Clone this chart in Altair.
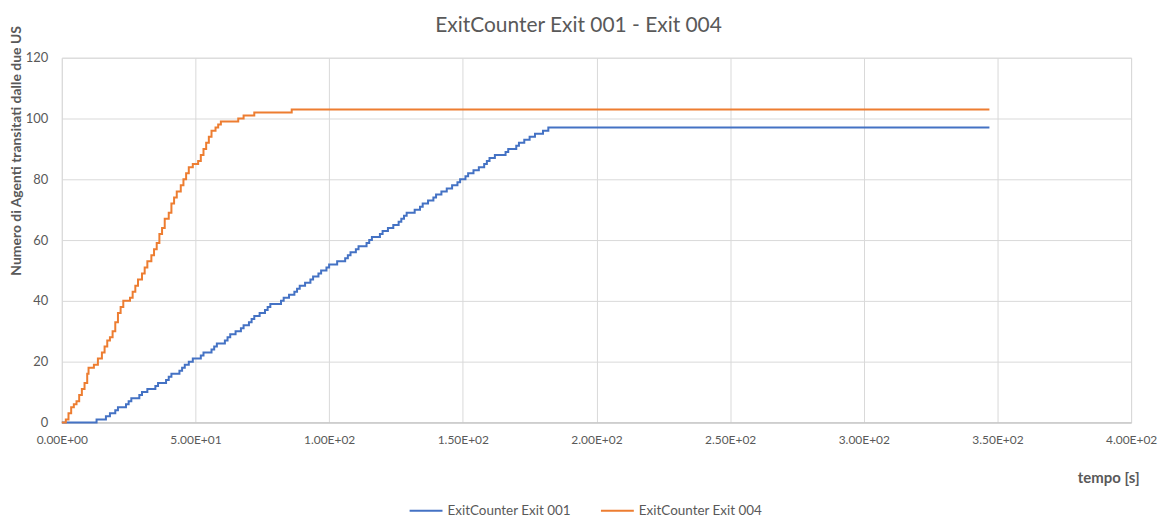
import altair as alt
import pandas as pd

FONT = "Lato"
GREY = "#595959"

series_names = ["ExitCounter Exit 001", "ExitCounter Exit 004"]
series_colors = ["#4472C4", "#ED7D31"]

# ExitCounter Exit 001 (step points: time [s], count)
t_001 = [0, 13, 16.5, 18, 20, 21, 24, 25, 26, 29, 30, 32, 35, 36, 39, 40, 41, 44, 45, 46,
         47.5, 49, 52, 53, 56, 57, 58, 61, 62, 63, 65, 67, 68, 70, 71, 72, 74, 76, 77, 78,
         82, 83, 85, 87, 88, 89, 91, 93, 94, 96, 97, 99, 100, 103, 106, 107, 108, 110, 111,
         114, 115, 116, 119, 120, 122, 124, 126, 127, 128, 129, 132, 134, 135, 137, 139, 140,
         142, 144, 146, 148, 149, 151, 152, 154, 156, 158, 159, 160, 162, 166, 167, 170, 171,
         173, 175, 177, 180, 182, 347]
y_001 = [0, 1, 2, 3, 4, 5, 6, 7, 8, 9, 10, 11, 12, 13, 14, 15, 16, 17, 18, 19,
         20, 21, 22, 23, 24, 25, 26, 27, 28, 29, 30, 31, 32, 33, 34, 35, 36, 37, 38, 39,
         40, 41, 42, 43, 44, 45, 46, 47, 48, 49, 50, 51, 52, 53, 54, 55, 56, 57, 58,
         59, 60, 61, 62, 63, 64, 65, 66, 67, 68, 69, 70, 71, 72, 73, 74, 75,
         76, 77, 78, 79, 80, 81, 82, 83, 84, 85, 86, 87, 88, 89, 90, 91, 92,
         93, 94, 95, 96, 97, 97]

# ExitCounter Exit 004
t_004 = [0, 1.5, 2.5, 3.5, 4.5, 5.5, 6.5, 7.5, 8.5, 9.5, 10, 12, 13.5, 15, 16, 17, 18, 19,
         20, 21, 22, 23, 25.5, 26.5, 27.5, 28.5, 30, 31, 32, 33.5, 34.5, 35.5, 36.5, 37.5,
         38.5, 40, 41, 42, 43, 44.5, 45.5, 46.5, 47.5, 49, 51, 52, 53, 54, 55, 56, 57.5,
         58.5, 59.5, 66, 68, 72, 86, 347]
y_004 = [0, 1, 3, 5, 6, 7, 9, 11, 13, 16, 18, 19, 21, 23, 25, 27, 28, 30,
         33, 36, 38, 40, 41, 43, 45, 47, 49, 51, 53, 55, 57, 59, 62, 64,
         67, 69, 72, 74, 76, 78, 80, 82, 84, 85, 86, 88, 90, 92, 94, 96, 97,
         98, 99, 100, 101, 102, 103, 103]

x_ticks = [0, 50, 100, 150, 200, 250, 300, 350, 400]
y_ticks = [0, 20, 40, 60, 80, 100, 120]

df = pd.concat([
    pd.DataFrame({"serie": series_names[0], "t": t_001, "n": y_001}),
    pd.DataFrame({"serie": series_names[1], "t": t_004, "n": y_004}),
])

label_expr = ("datum.value == 0 ? '0.00E+00' : (datum.value < 100 ? "
              "format(datum.value / 10, '.2f') + 'E+01' : "
              "format(datum.value / 100, '.2f') + 'E+02')")

chart = alt.Chart(df).mark_line(interpolate="step-after", strokeWidth=2).encode(
    x=alt.X("t:Q",
            scale=alt.Scale(domain=[0, 400], nice=False),
            axis=alt.Axis(values=x_ticks, labelExpr=label_expr, title="tempo [s]",
                          grid=True, gridColor="#d9d9d9", domainColor="#bfbfbf",
                          ticks=False, labelPadding=12, labelFontSize=12,
                          labelFlush=False, labelOverlap=False,
                          labelColor=GREY, labelFont=FONT,
                          titleFont=FONT, titleFontSize=15, titleFontWeight="bold",
                          titleColor=GREY, titleAnchor="end", titleAlign="right",
                          titleX=1081, titleY=55, titleBaseline="middle")),
    y=alt.Y("n:Q",
            scale=alt.Scale(domain=[0, 120], nice=False),
            axis=alt.Axis(values=y_ticks, title="Numero di Agenti transitati dalle due US",
                          grid=True, gridColor="#d9d9d9", domain=False, ticks=False,
                          labelPadding=14, labelFontSize=13, labelColor=GREY,
                          labelFont=FONT, titleFont=FONT, titleFontSize=14,
                          titleFontWeight="bold", titleColor=GREY,
                          titleX=-45, titleY=93, titleAlign="center",
                          titleBaseline="middle")),
    color=alt.Color("serie:N",
                    scale=alt.Scale(domain=series_names, range=series_colors),
                    legend=alt.Legend(title=None, orient="none", direction="horizontal",
                                      legendX=348, legendY=437, padding=0,
                                      symbolType="stroke", symbolSize=1089,
                                      symbolStrokeWidth=2, labelFont=FONT,
                                      labelFontSize=13.5, labelColor=GREY,
                                      labelOffset=4, columnPadding=26)),
).properties(
    width=1073,
    height=366,
    title=alt.TitleParams("ExitCounter Exit 001 - Exit 004", font=FONT, fontSize=21,
                          fontWeight="normal", color=GREY, anchor="middle",
                          offset=0, dx=-18, dy=11),
    autosize=alt.AutoSizeParams(type="none"),
    padding={"left": 54, "top": 49, "right": 28, "bottom": 95},
).configure_view(stroke=None).configure(background="white")

chart.save("out.html", embed_options={"renderer": "svg", "actions": False})
